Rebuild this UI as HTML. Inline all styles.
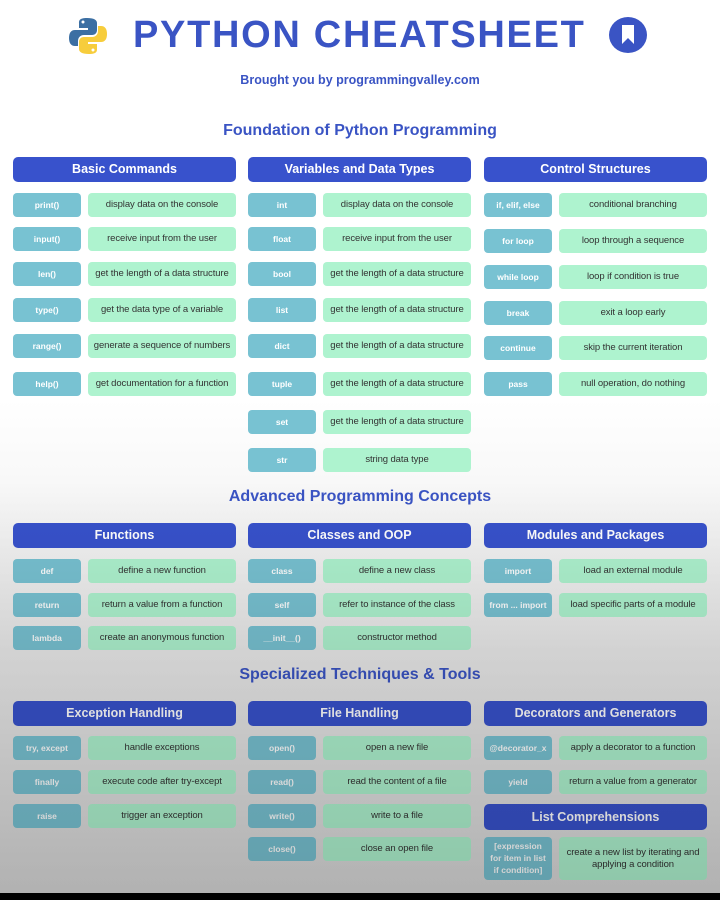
<!DOCTYPE html>
<html><head><meta charset="utf-8"><style>
*{margin:0;padding:0;box-sizing:border-box}
body{width:720px;height:900px;position:relative;overflow:hidden;font-family:"Liberation Sans",sans-serif;background:linear-gradient(#fff 0,#fff 400px,#eaeaea 650px,#d9d9d9 890px)}
.a{position:absolute}
.t{color:#3a54c4;font-weight:bold;text-align:center;width:720px;left:0}
.h{position:absolute;height:25px;width:223px;background:#3852cc;color:#fff;font-weight:bold;font-size:12.5px;line-height:25px;text-align:center;border-radius:5px}
.k{position:absolute;width:68px;height:24px;background:#78c2d2;color:#fff;font-weight:bold;font-size:8.5px;line-height:24px;text-align:center;border-radius:4px;white-space:nowrap}
.d{position:absolute;width:148px;height:24px;background:#aef3cf;color:#333;font-size:9.5px;line-height:24px;text-align:center;border-radius:4px;white-space:nowrap;letter-spacing:-0.1px}
.sh{position:absolute;left:0;top:0;width:720px;height:900px;background:linear-gradient(rgba(0,0,0,0) 0,rgba(0,0,0,0) 480px,rgba(0,0,0,.1) 650px,rgba(0,0,0,.18) 890px);pointer-events:none}
</style></head><body>
<svg class="a" style="left:68px;top:16px" width="40" height="40" viewBox="0 0 40 40"><path d="M19 2c-8 0-8 3-8 5v5h9v2H7c-4 0-6 3-6 8s2 8 6 8h3v-5c0-3 2-6 6-6h8c3 0 5-2 5-5V7c0-3-3-5-10-5z" fill="#3c6fa3"/><path d="M21 38c8 0 8-3 8-5v-5h-9v-2h13c4 0 6-3 6-8s-2-8-6-8h-3v5c0 3-2 6-6 6h-8c-3 0-5 2-5 5v7c0 3 3 5 10 5z" fill="#f7cd3c"/><circle cx="15" cy="6" r="1.5" fill="#fff"/><circle cx="25" cy="34" r="1.5" fill="#fff"/></svg>
<div class="a" style="left:133px;top:14px;font-size:38px;font-weight:bold;color:#3a54c4;letter-spacing:1.7px">PYTHON CHEATSHEET</div>
<svg class="a" style="left:608px;top:16px" width="40" height="38" viewBox="0 0 40 38"><ellipse cx="20" cy="19" rx="19" ry="18" fill="#3a54c4"/><path d="M14 9h12v19l-6-6-6 6z" fill="#fff"/></svg>
<div class="a t" style="top:73px;font-size:12.5px">Brought you by programmingvalley.com</div>
<div class="a t" style="top:122px;font-size:16px">Foundation of Python Programming</div>
<div class="h" style="left:13px;top:157px">Basic Commands</div>
<div class="h" style="left:248px;top:157px">Variables and Data Types</div>
<div class="h" style="left:484px;top:157px">Control Structures</div>

<div class="k" style="left:13px;top:193px">print()</div><div class="d" style="left:88px;top:193px">display data on the console</div>
<div class="k" style="left:13px;top:227px">input()</div><div class="d" style="left:88px;top:227px">receive input from the user</div>
<div class="k" style="left:13px;top:262px">len()</div><div class="d" style="left:88px;top:262px">get the length of a data structure</div>
<div class="k" style="left:13px;top:298px">type()</div><div class="d" style="left:88px;top:298px">get the data type of a variable</div>
<div class="k" style="left:13px;top:334px">range()</div><div class="d" style="left:88px;top:334px">generate a sequence of numbers</div>
<div class="k" style="left:13px;top:372px">help()</div><div class="d" style="left:88px;top:372px">get documentation for a function</div>

<div class="k" style="left:248px;top:193px">int</div><div class="d" style="left:323px;top:193px">display data on the console</div>
<div class="k" style="left:248px;top:227px">float</div><div class="d" style="left:323px;top:227px">receive input from the user</div>
<div class="k" style="left:248px;top:262px">bool</div><div class="d" style="left:323px;top:262px">get the length of a data structure</div>
<div class="k" style="left:248px;top:298px">list</div><div class="d" style="left:323px;top:298px">get the length of a data structure</div>
<div class="k" style="left:248px;top:334px">dict</div><div class="d" style="left:323px;top:334px">get the length of a data structure</div>
<div class="k" style="left:248px;top:372px">tuple</div><div class="d" style="left:323px;top:372px">get the length of a data structure</div>
<div class="k" style="left:248px;top:410px">set</div><div class="d" style="left:323px;top:410px">get the length of a data structure</div>
<div class="k" style="left:248px;top:448px">str</div><div class="d" style="left:323px;top:448px">string data type</div>

<div class="k" style="left:484px;top:193px">if, elif, else</div><div class="d" style="left:559px;top:193px">conditional branching</div>
<div class="k" style="left:484px;top:229px">for loop</div><div class="d" style="left:559px;top:229px">loop through a sequence</div>
<div class="k" style="left:484px;top:265px">while loop</div><div class="d" style="left:559px;top:265px">loop if condition is true</div>
<div class="k" style="left:484px;top:301px">break</div><div class="d" style="left:559px;top:301px">exit a loop early</div>
<div class="k" style="left:484px;top:336px">continue</div><div class="d" style="left:559px;top:336px">skip the current iteration</div>
<div class="k" style="left:484px;top:372px">pass</div><div class="d" style="left:559px;top:372px">null operation, do nothing</div>

<div class="a t" style="top:488px;font-size:16px">Advanced Programming Concepts</div>
<div class="h" style="left:13px;top:523px">Functions</div>
<div class="h" style="left:248px;top:523px">Classes and OOP</div>
<div class="h" style="left:484px;top:523px">Modules and Packages</div>
<div class="k" style="left:13px;top:559px">def</div><div class="d" style="left:88px;top:559px">define a new function</div>
<div class="k" style="left:13px;top:593px">return</div><div class="d" style="left:88px;top:593px">return a value from a function</div>
<div class="k" style="left:13px;top:626px">lambda</div><div class="d" style="left:88px;top:626px">create an anonymous function</div>
<div class="k" style="left:248px;top:559px">class</div><div class="d" style="left:323px;top:559px">define a new class</div>
<div class="k" style="left:248px;top:593px">self</div><div class="d" style="left:323px;top:593px">refer to instance of the class</div>
<div class="k" style="left:248px;top:626px">__init__()</div><div class="d" style="left:323px;top:626px">constructor method</div>
<div class="k" style="left:484px;top:559px">import</div><div class="d" style="left:559px;top:559px">load an external module</div>
<div class="k" style="left:484px;top:593px">from ... import</div><div class="d" style="left:559px;top:593px">load specific parts of a module</div>

<div class="a t" style="top:666px;font-size:16px">Specialized Techniques &amp; Tools</div>
<div class="h" style="left:13px;top:701px">Exception Handling</div>
<div class="h" style="left:248px;top:701px">File Handling</div>
<div class="h" style="left:484px;top:701px">Decorators and Generators</div>
<div class="k" style="left:13px;top:736px">try, except</div><div class="d" style="left:88px;top:736px">handle exceptions</div>
<div class="k" style="left:13px;top:770px">finally</div><div class="d" style="left:88px;top:770px">execute code after try-except</div>
<div class="k" style="left:13px;top:804px">raise</div><div class="d" style="left:88px;top:804px">trigger an exception</div>
<div class="k" style="left:248px;top:736px">open()</div><div class="d" style="left:323px;top:736px">open a new file</div>
<div class="k" style="left:248px;top:770px">read()</div><div class="d" style="left:323px;top:770px">read the content of a file</div>
<div class="k" style="left:248px;top:804px">write()</div><div class="d" style="left:323px;top:804px">write to a file</div>
<div class="k" style="left:248px;top:837px">close()</div><div class="d" style="left:323px;top:837px">close an open file</div>
<div class="k" style="left:484px;top:736px">@decorator_x</div><div class="d" style="left:559px;top:736px">apply a decorator to a function</div>
<div class="k" style="left:484px;top:770px">yield</div><div class="d" style="left:559px;top:770px">return a value from a generator</div>
<div class="h" style="left:484px;top:804px;height:26px;line-height:26px">List Comprehensions</div>
<div class="k" style="left:484px;top:837px;height:43px;line-height:12px;padding-top:3px">[expression<br>for item in list<br>if condition]</div>
<div class="d" style="left:559px;top:837px;height:43px;line-height:12px;padding-top:10px;white-space:normal">create a new list by iterating and applying a condition</div>
<div class="sh"></div>
<div class="a" style="left:0;top:893px;width:720px;height:7px;background:#000"></div>
</body></html>
